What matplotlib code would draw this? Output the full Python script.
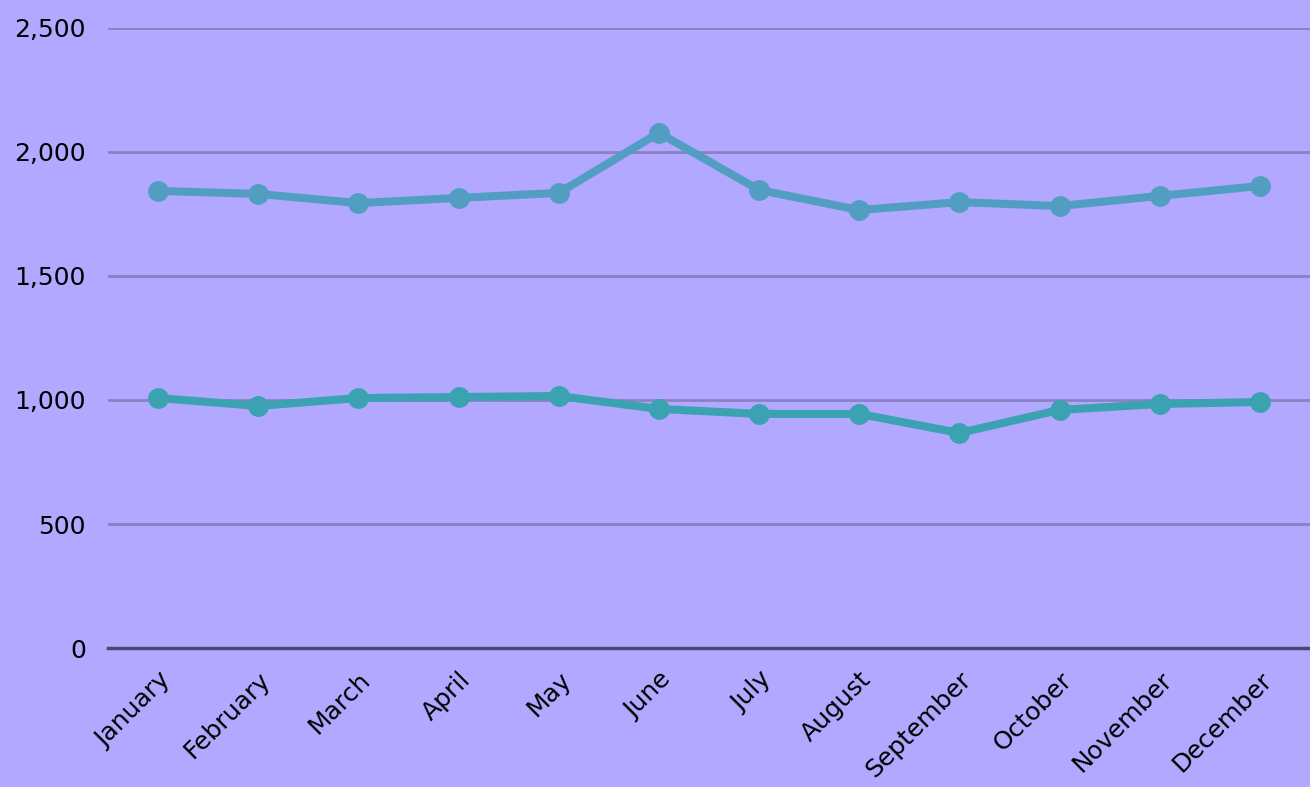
import matplotlib
matplotlib.use('Agg')
import matplotlib.pyplot as plt
from matplotlib.ticker import FuncFormatter

months = ['January', 'February', 'March', 'April', 'May', 'June',
          'July', 'August', 'September', 'October', 'November', 'December']
upper = [1843, 1831, 1794, 1815, 1835, 2077, 1847, 1766, 1798, 1782, 1823, 1863]
lower = [1008, 976, 1008, 1012, 1016, 964, 944, 944, 867, 960, 984, 992]
y_ticks = [0, 500, 1000, 1500, 2000, 2500]

plt.rcParams['font.family'] = ['DejaVu Sans']

bg = '#b3a8ff'
fig = plt.figure(figsize=(13.1, 7.87), dpi=100, facecolor=bg)
ax = fig.add_axes([108 / 1310, 139 / 787, 1 - 108 / 1310, 620 / 787])
ax.set_facecolor(bg)

x = list(range(len(months)))
ax.plot(x, upper, color='#529ec3', lw=5.8, marker='o', ms=14, zorder=3)
ax.plot(x, lower, color='#3aa2b1', lw=5.8, marker='o', ms=14, zorder=3)

ax.set_xlim(-0.5, len(months) - 0.5)
ax.set_ylim(0, 2500)
ax.set_yticks(y_ticks)
ax.yaxis.set_major_formatter(FuncFormatter(lambda v, p: f'{int(v):,}'))
ax.grid(axis='y', color='#8a80c2', lw=2)
ax.axhline(0, color='#4b4673', lw=2.5, zorder=2, clip_on=False)

for s in ax.spines.values():
    s.set_visible(False)
ax.tick_params(axis='both', length=0, colors='black')
ax.tick_params(axis='y', pad=16, labelsize=18)
ax.tick_params(axis='x', pad=14)
ax.set_xticks(x)
ax.set_xticklabels(months, rotation=45, ha='right', rotation_mode='anchor', fontsize=18)

plt.savefig('out.png', dpi=100, facecolor=bg)
